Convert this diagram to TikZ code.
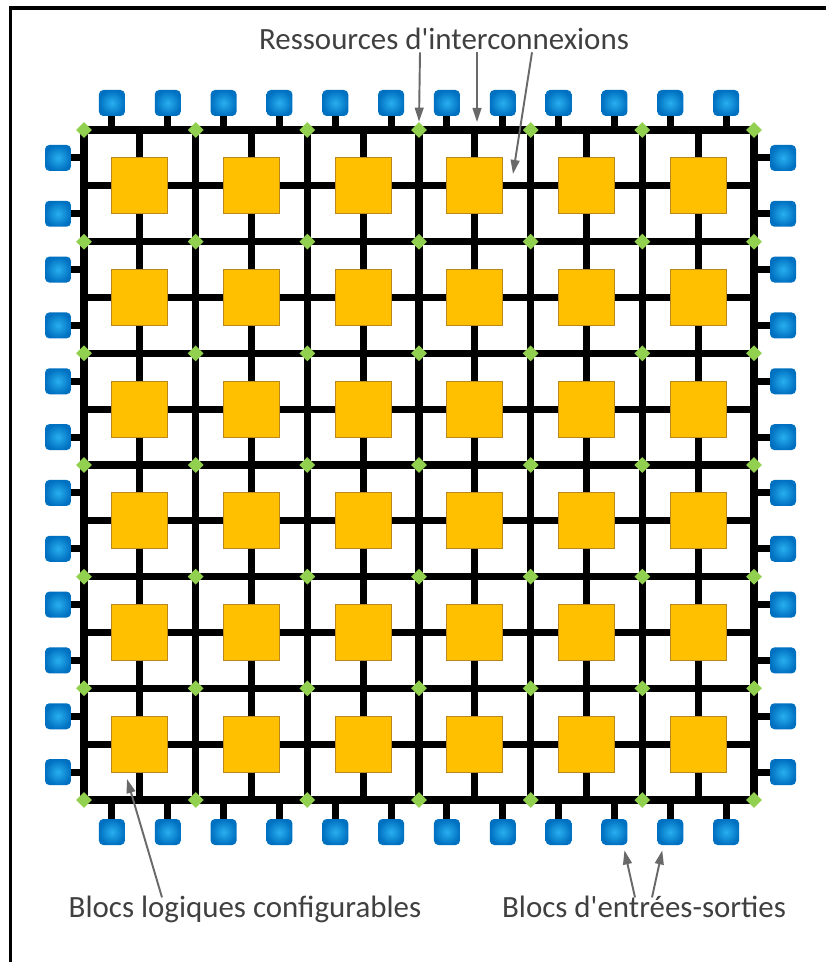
\documentclass[tikz,border=0pt]{standalone}
\usepackage{fontspec}
\newfontfamily\labelfont{Carlito}
\definecolor{cellorange}{RGB}{255, 192, 0}
\definecolor{celledge}{RGB}{185, 135, 30}
\definecolor{ioblue}{RGB}{0, 112, 192}
\definecolor{iolight}{RGB}{40, 175, 240}
\definecolor{nodegreen}{RGB}{146, 208, 80}
\definecolor{labelgray}{RGB}{64, 64, 64}
\definecolor{arrowgray}{RGB}{105, 105, 105}
\usetikzlibrary{shapes.geometric, arrows.meta, positioning, calc}
\tikzset{
    wire/.style={line width=4pt, black, line cap=rect},
    stub/.style={line width=4pt, black},
    clb/.style={
        rectangle, draw=celledge, fill=cellorange,
        minimum size=1.12cm, inner sep=0pt, line width=0.5pt
    },
    iopad/.style={
        rectangle, rounded corners=2.5pt,
        minimum size=0.52cm, inner sep=0pt,
        shading=radial, inner color=iolight, outer color=ioblue
    },
    switch/.style={diamond, aspect=1, fill=nodegreen, minimum size=0.32cm, inner sep=0pt},
    lbl/.style={font=\labelfont\fontsize{17.6}{21}\selectfont, text=labelgray, inner sep=1pt},
    pointer/.style={-{Triangle[length=8pt, width=5pt]}, line width=1.1pt, color=arrowgray}
}

\begin{document}
\begin{tikzpicture}[x=0.02cm, y=-0.02cm]
    \useasboundingbox (0,0) rectangle (826,962);
    \draw[line width=2.2pt] (826,8) -- (10.5,8) -- (10.5,962);

    % interconnect grid
    \coordinate (gridtl) at (84,130);
    \coordinate (gridbr) at (754,800);
    \foreach \i in {0,...,12} {
        \pgfmathsetmacro\pos{84+\i*55.833}
        \draw[wire] (\pos,130) -- (\pos,800);
        \draw[wire] (84,\pos+46) -- (754,\pos+46);
    }

    % logic blocks
    \foreach \i in {0,...,5} {
        \foreach \j in {0,...,5} {
            \node[clb] (clb-\i-\j) at (139.833+\i*111.667, 185.833+\j*111.667) {};
        }
    }

    % switch boxes
    \foreach \i in {0,...,6} {
        \foreach \j in {0,...,6} {
            \node[switch] (sw-\i-\j) at (84+\i*111.667, 130+\j*111.667) {};
        }
    }

    % I/O pads on the four sides
    \foreach \k in {0,...,11} {
        \pgfmathsetmacro\pos{27.917*(2*\k+1)}
        \node[iopad] (iot-\k) at (84+\pos,103) {};
        \node[iopad] (iob-\k) at (84+\pos,832) {};
        \node[iopad] (iol-\k) at (58,130+\pos) {};
        \node[iopad] (ior-\k) at (783,130+\pos) {};
        \draw[stub] (iot-\k) -- (iot-\k |- gridtl);
        \draw[stub] (iob-\k) -- (iob-\k |- gridbr);
        \draw[stub] (iol-\k) -- (iol-\k -| gridtl);
        \draw[stub] (ior-\k) -- (ior-\k -| gridbr);
    }

    % labels
    \node[lbl, anchor=base] (resslabel) at (444,50) {Ressources d'interconnexions};
    \node[lbl, anchor=base] (clblabel) at (245,917) {Blocs logiques configurables};
    \node[lbl, anchor=base] (iolabel) at (644,917) {Blocs d'entrées-sorties};

    \coordinate (ptr-b) at (477,122);
    \coordinate (ptr-c) at (513,174);
    \coordinate (ptr-d) at (127,779);
    \draw[pointer] ($(resslabel.south)+(-24,0)$) -- (sw-3-0.north);
    \draw[pointer] ($(resslabel.south)+(33,0)$) -- (ptr-b);
    \draw[pointer] ($(resslabel.south)+(88,0)$) -- (ptr-c);
    \draw[pointer] ($(clblabel.north)+(-83,4)$) -- (ptr-d);
    \draw[pointer] ($(iolabel.north)+(-9,4)$) -- ([shift={(10,5)}]iob-9.south);
    \draw[pointer] ($(iolabel.north)+(8,4)$) -- ([shift={(-8,5)}]iob-10.south);
\end{tikzpicture}
\end{document}
